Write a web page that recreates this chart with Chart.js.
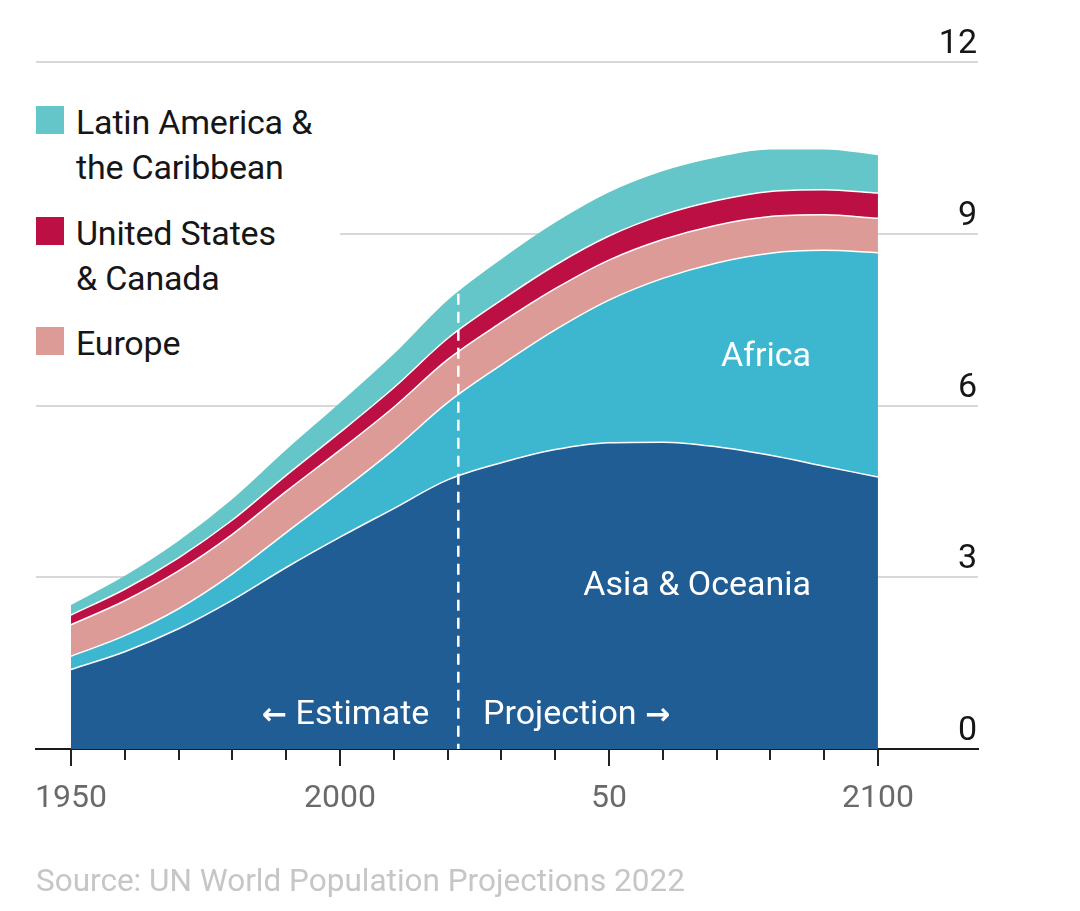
<!DOCTYPE html>
<html>
<head>
<meta charset="utf-8">
<script src="https://cdn.jsdelivr.net/npm/chart.js@4"></script>
<style>
  body { margin: 0; background: #fff; font-family: Roboto, sans-serif; }
  #wrap { position: relative; width: 1080px; height: 911px; }
  canvas { position: absolute; left: 0; top: 0; }
  .legend { position: absolute; left: 36px; top: 100px; width: 304px; height: 268px; background: #fff; }
  .item { position: absolute; left: 0; font-size: 34px; line-height: 45px; color: #161616; }
  .item .sw { position: absolute; left: 0; top: 6px; width: 28px; height: 28px; }
  .item .tx { position: absolute; left: 40px; top: 0; white-space: nowrap; letter-spacing: -0.2px; }
  .note { position: absolute; font-size: 34px; line-height: 45px; color: #fff; white-space: nowrap; }
  .arrow { font-family: "DejaVu Sans", sans-serif; font-weight: bold; font-size: 30px; }
  .source { position: absolute; left: 36px; top: 861px; font-size: 31.5px; line-height: 40px; color: #c6c6c6; white-space: nowrap; }
</style>
</head>
<body>
<div id="wrap">
  <canvas id="popChart" width="1080" height="911"></canvas>
  <div class="legend">
    <div class="item" style="top:0px"><div class="sw" style="background:#64c6c8"></div><div class="tx">Latin America &amp;<br>the Caribbean</div></div>
    <div class="item" style="top:111px"><div class="sw" style="background:#bc1044"></div><div class="tx">United States<br>&amp; Canada</div></div>
    <div class="item" style="top:221px"><div class="sw" style="background:#dd9b98"></div><div class="tx">Europe</div></div>
  </div>
  <div class="note" style="right:269px; top:332px">Africa</div>
  <div class="note" style="right:269px; top:561px">Asia &amp; Oceania</div>
  <div class="note" style="left:262px; top:690px"><span class="arrow">←</span> Estimate</div>
  <div class="note" style="left:483px; top:690px">Projection <span class="arrow">→</span></div>
  <div class="source">Source: UN World Population Projections 2022</div>
</div>
<script>
// population, billions
const years = [1950, 1960, 1970, 1980, 1990, 2000, 2010, 2020, 2030, 2040, 2050, 2060, 2070, 2080, 2090, 2100];
const asiaOceania = [1.39, 1.70, 2.10, 2.60, 3.17, 3.70, 4.20, 4.70, 5.00, 5.23, 5.35, 5.36, 5.28, 5.13, 4.94, 4.75];
const africa = [0.23, 0.28, 0.35, 0.46, 0.61, 0.79, 1.03, 1.35, 1.71, 2.09, 2.49, 2.86, 3.21, 3.53, 3.77, 3.92];
const europe = [0.55, 0.61, 0.66, 0.69, 0.72, 0.73, 0.74, 0.75, 0.74, 0.72, 0.70, 0.68, 0.66, 0.64, 0.62, 0.60];
const usCanada = [0.17, 0.20, 0.23, 0.25, 0.28, 0.31, 0.34, 0.37, 0.39, 0.41, 0.42, 0.43, 0.43, 0.44, 0.44, 0.44];
const latAm = [0.16, 0.22, 0.28, 0.35, 0.43, 0.50, 0.57, 0.65, 0.70, 0.73, 0.75, 0.75, 0.74, 0.72, 0.69, 0.65];

const xTicks = [1950, 1960, 1970, 1980, 1990, 2000, 2010, 2020, 2030, 2040, 2050, 2060, 2070, 2080, 2090, 2100];
const xLabels = { 1950: "1950", 2000: "2000", 2050: "50", 2100: "2100" };
const yTicks = [0, 3, 6, 9, 12];

// estimate / projection split
const dividerYear = 2022;
const dividerTop = 7.95;

const ctx = document.getElementById("popChart").getContext("2d");

function series(label, values, color, border, fill) {
  return {
    label: label,
    data: values.map((v, i) => ({ x: years[i], y: v })),
    backgroundColor: color,
    borderColor: border,
    borderWidth: 1.5,
    fill: fill,
    pointRadius: 0,
    cubicInterpolationMode: "monotone",
  };
}

// extra bits: tick marks, dashed divider, right-hand labels
const extras = {
  id: "extras",
  afterDatasetsDraw(chart) {
    const { ctx, scales: { x, y } } = chart;
    const px = x.getPixelForValue(dividerYear);
    ctx.save();
    ctx.strokeStyle = "#fff";
    ctx.lineWidth = 2.5;
    ctx.setLineDash([11, 7]);
    ctx.beginPath();
    ctx.moveTo(px, y.getPixelForValue(dividerTop));
    ctx.lineTo(px, y.getPixelForValue(0));
    ctx.stroke();
    ctx.restore();
  },
  afterDraw(chart) {
    const { ctx, scales: { x, y } } = chart;
    const base = y.getPixelForValue(0);
    ctx.save();
    ctx.strokeStyle = "#222";
    ctx.lineWidth = 2;
    xTicks.forEach((v) => {
      const px = Math.round(x.getPixelForValue(v));
      const len = v % 50 === 0 ? 17 : 11;
      ctx.beginPath();
      ctx.moveTo(px, base);
      ctx.lineTo(px, base + len);
      ctx.stroke();
    });
    ctx.fillStyle = "#161616";
    ctx.font = "34px Roboto";
    ctx.textAlign = "right";
    ctx.textBaseline = "alphabetic";
    yTicks.forEach((v) => {
      ctx.fillText(String(v), 977, y.getPixelForValue(v) - 9);
    });
    ctx.restore();
  },
};

const config = {
  type: "line",
  data: {
    datasets: [
      series("Asia & Oceania", asiaOceania, "#205d95", "#ffffff", "origin"),
      series("Africa", africa, "#3db7d0", "#ffffff", "-1"),
      series("Europe", europe, "#dd9b98", "#ffffff", "-1"),
      series("United States & Canada", usCanada, "#bc1044", "#ffffff", "-1"),
      series("Latin America & the Caribbean", latAm, "#64c6c8", "#64c6c8", "-1"),
    ],
  },
  options: {
    responsive: false,
    animation: false,
    devicePixelRatio: 1,
    layout: { padding: { top: 62, left: 36, right: 102, bottom: 0 } },
    plugins: {
      legend: { display: false },
      tooltip: { enabled: false },
    },
    scales: {
      x: {
        type: "linear",
        min: 1943.5,
        max: 2118.6,
        afterBuildTicks: (axis) => {
          axis.ticks = xTicks.map((v) => ({ value: v }));
        },
        afterFit: (axis) => {
          axis.height = 162;
        },
        grid: { display: false, drawTicks: false },
        border: { display: true, color: "#1a1a1a", width: 2 },
        ticks: {
          autoSkip: false,
          maxRotation: 0,
          padding: 31,
          color: "#6a6a6a",
          font: { family: "Roboto", size: 32 },
          callback: (v) => xLabels[v] || "",
        },
      },
      y: {
        stacked: true,
        position: "right",
        min: 0,
        max: 12,
        afterFit: (axis) => {
          axis.width = 0;
        },
        ticks: { display: false, stepSize: 3 },
        border: { display: false },
        grid: {
          drawTicks: false,
          lineWidth: 2,
          color: (c) => (c.tick && c.tick.value === 0 ? "rgba(0,0,0,0)" : "#d8d8d8"),
        },
      },
    },
  },
  plugins: [extras],
};

const popChart = new Chart(ctx, config);
</script>
</body>
</html>
